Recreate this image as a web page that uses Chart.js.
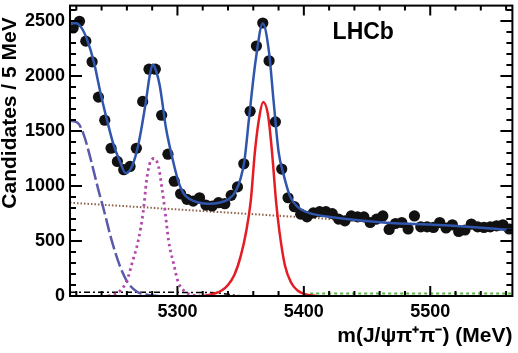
<!DOCTYPE html>
<html>
<head>
<meta charset="utf-8">
<script src="https://cdn.jsdelivr.net/npm/chart.js@4.4.1/dist/chart.umd.min.js"></script>
<style>
  html, body { margin: 0; padding: 0; background: #fff; }
  #wrap { width: 518px; height: 353px; }
</style>
</head>
<body>
<div id="wrap"><canvas id="massChart" width="518" height="353"></canvas></div>
<script>
// ---------- data ----------
const binCenters = [
  5217.5, 5222.5, 5227.5, 5232.5, 5237.5, 5242.5, 5247.5, 5252.5, 5257.5, 5262.5,
  5267.5, 5272.5, 5277.5, 5282.5, 5287.5, 5292.5, 5297.5, 5302.5, 5307.5, 5312.5,
  5317.5, 5322.5, 5327.5, 5332.5, 5337.5, 5342.5, 5347.5, 5352.5, 5357.5, 5362.5,
  5367.5, 5372.5, 5377.5, 5382.5, 5387.5, 5392.5, 5397.5, 5402.5, 5407.5, 5412.5,
  5417.5, 5422.5, 5427.5, 5432.5, 5437.5, 5442.5, 5447.5, 5452.5, 5457.5, 5462.5,
  5467.5, 5472.5, 5477.5, 5482.5, 5487.5, 5492.5, 5497.5, 5502.5, 5507.5, 5512.5,
  5517.5, 5522.5, 5527.5, 5532.5, 5537.5, 5542.5, 5547.5, 5552.5, 5557.5, 5562.5
];
const candidates = [
  2437, 2497, 2317, 2129, 1808, 1598, 1343, 1223, 1148, 1178,
  1343, 1769, 2062, 2062, 1643, 1289, 1043, 929, 879, 863,
  893, 827, 818, 848, 839, 915, 992, 1202, 1679, 2272,
  2482, 2138, 1583, 1154, 893, 812, 744, 719, 755, 767,
  767, 749, 699, 683, 728, 719, 719, 668, 699, 728,
  605, 659, 668, 609, 728, 629, 629, 623, 668, 618,
  647, 587, 600, 654, 629, 623, 629, 638, 647, 609
];

// total fit
const fitMass  = [5215, 5219, 5224, 5228.5, 5234, 5239, 5244, 5249.5, 5254.5, 5259, 5264, 5269, 5275, 5278, 5280.5, 5283, 5286, 5291, 5296, 5301, 5305, 5310, 5317.5, 5325, 5333, 5341, 5346, 5350, 5353, 5356.5, 5362, 5367.5, 5372.5, 5376, 5380, 5384, 5389, 5395, 5403.5, 5424, 5463, 5515, 5565];
const fitTotal = [2470, 2482, 2440, 2332, 2122, 1853, 1612, 1373, 1223, 1118, 1178, 1373, 1763, 2000, 2105, 2050, 1913, 1522, 1253, 1030, 930, 879, 848, 839, 848, 885, 950, 1070, 1230, 1600, 2152, 2478, 2212, 1780, 1313, 1103, 908, 810, 758, 713, 668, 640, 600];

// Bs signal (red)
const bsMass   = [5320, 5325, 5330, 5335, 5340, 5345, 5350, 5354.5, 5358, 5361.3, 5365, 5367.8, 5371.7, 5374.8, 5378, 5380.6, 5385, 5390, 5395, 5400, 5405, 5410];
const bsSignal = [0, 10, 25, 50, 100, 190, 360, 594, 863, 1313, 1643, 1763, 1643, 1313, 863, 594, 280, 120, 50, 20, 8, 0];

// B0 signal (magenta dotted)
const b0Mass   = [5245, 5250, 5255, 5260, 5264, 5269, 5273, 5275.5, 5278, 5281.5, 5285, 5287.7, 5290.2, 5293, 5297, 5300.5, 5306, 5312, 5318];
const b0Signal = [0, 15, 50, 140, 294, 504, 773, 1043, 1200, 1250, 1178, 983, 773, 504, 294, 129, 39, 9, 0];

// partially reconstructed background (long dashed)
const prMass = [5215, 5221, 5226, 5229.8, 5233.8, 5237.7, 5242, 5247.3, 5253.8, 5260.3, 5268, 5277, 5285];
const prBkg  = [1592, 1575, 1463, 1313, 1133, 953, 773, 533, 294, 129, 39, 9, 0];

// combinatorial background (brown dotted)
const combMass = [5215, 5390, 5565];
const combBkg  = [848, 722, 594];

// small backgrounds near zero
const misIdMass = [5215, 5300, 5330, 5340, 5350, 5360];
const misIdBkg  = [35, 33, 30, 15, 3, 0];
const highMass  = [5405, 5565];
const highBkg   = [22, 22];

const xLabels = [5300, 5400, 5500];
const yLabels = [0, 500, 1000, 1500, 2000, 2500];

const zip = (xs, ys) => xs.map((x, i) => ({ x, y: ys[i] }));

// ---------- ROOT style frame, inward ticks, LHCb tag ----------
const rootFrame = {
  id: 'rootFrame',
  afterDatasetsDraw(chart) {
    const { ctx, chartArea: a, scales: { x, y } } = chart;
    ctx.save();
    ctx.strokeStyle = '#000';
    ctx.lineWidth = 2;
    ctx.strokeRect(a.left, a.top, a.right - a.left, a.bottom - a.top);
    ctx.beginPath();
    for (let v = 0; v <= y.max; v += 100) {
      const p = y.getPixelForValue(v);
      const len = v % 500 === 0 ? 12 : 6;
      ctx.moveTo(a.left, p);  ctx.lineTo(a.left + len, p);
      ctx.moveTo(a.right, p); ctx.lineTo(a.right - len, p);
    }
    for (let v = 5220; v <= x.max; v += 20) {
      const p = x.getPixelForValue(v);
      const len = v % 100 === 0 ? 10 : 5;
      ctx.moveTo(p, a.bottom); ctx.lineTo(p, a.bottom - len);
      ctx.moveTo(p, a.top);    ctx.lineTo(p, a.top + len);
    }
    ctx.stroke();

    ctx.fillStyle = '#000';
    ctx.font = 'bold 23px "Liberation Sans", Arial, sans-serif';
    ctx.textAlign = 'center';
    ctx.textBaseline = 'middle';
    ctx.fillText('LHCb', x.getPixelForValue(5447), y.getPixelForValue(2390));
    ctx.restore();
  }
};

const lineSet = (data, color, width, dash, order) => ({
  data, showLine: true, borderColor: color, borderWidth: width, borderDash: dash,
  pointRadius: 0, cubicInterpolationMode: 'monotone', fill: false, order
});

const tickFont = { family: '"Liberation Sans", Arial, sans-serif', size: 18, weight: 'bold' };
const titleFont = { family: '"Liberation Sans", Arial, sans-serif', size: 21, weight: 'bold', lineHeight: 1 };

new Chart(document.getElementById('massChart'), {
  type: 'scatter',
  data: {
    datasets: [
      lineSet(zip(fitMass, fitTotal), '#2f55ad', 2.5, [], 0),
      {
        data: zip(binCenters, candidates),
        showLine: false, pointRadius: 5.6, backgroundColor: '#111', borderWidth: 0, order: 1
      },
      lineSet(zip(bsMass, bsSignal), '#e41c24', 2.5, [], 2),
      lineSet(zip(b0Mass, b0Signal), '#b448aa', 2.8, [2.5, 3.5], 3),
      lineSet(zip(prMass, prBkg), '#5a5aaa', 2.5, [14, 4], 4),
      lineSet(zip(combMass, combBkg), '#8c5f46', 2, [1.5, 2], 5),
      lineSet(zip(misIdMass, misIdBkg), '#000', 1.5, [6, 3, 2, 3], 6),
      lineSet(zip(highMass, highBkg), '#5ab446', 2, [3, 3], 7)
    ]
  },
  options: {
    responsive: false,
    animation: false,
    devicePixelRatio: 1,
    events: [],
    layout: { padding: { top: 2, right: 3, left: 0, bottom: 0 } },
    plugins: { legend: { display: false }, tooltip: { enabled: false } },
    scales: {
      x: {
        type: 'linear', min: 5215, max: 5565,
        grid: { display: false, drawTicks: false }, border: { display: false },
        afterBuildTicks: s => { s.ticks = xLabels.map(v => ({ value: v })); },
        afterFit: s => { s.height = 57; s.paddingLeft = 0; s.paddingRight = 0; },
        ticks: { autoSkip: false, maxRotation: 0, padding: 5, color: '#000', font: tickFont, callback: v => String(v) },
        title: {
          display: true, text: 'm(J/ψπ⁺π⁻) (MeV)', align: 'end', color: '#000',
          font: titleFont, padding: { top: 0, bottom: 6 }
        }
      },
      y: {
        type: 'linear', min: 0, max: 2640,
        grid: { display: false, drawTicks: false }, border: { display: false },
        afterBuildTicks: s => { s.ticks = yLabels.map(v => ({ value: v })); },
        afterFit: s => { s.width = 70; s.paddingTop = 0; s.paddingBottom = 0; },
        ticks: { autoSkip: false, padding: 5, color: '#000', font: tickFont, callback: v => String(v) },
        title: {
          display: true, text: 'Candidates / 5 MeV  ', align: 'end', color: '#000',
          font: titleFont, padding: { top: 0, bottom: 0 }
        }
      }
    }
  },
  plugins: [rootFrame]
});
</script>
</body>
</html>
